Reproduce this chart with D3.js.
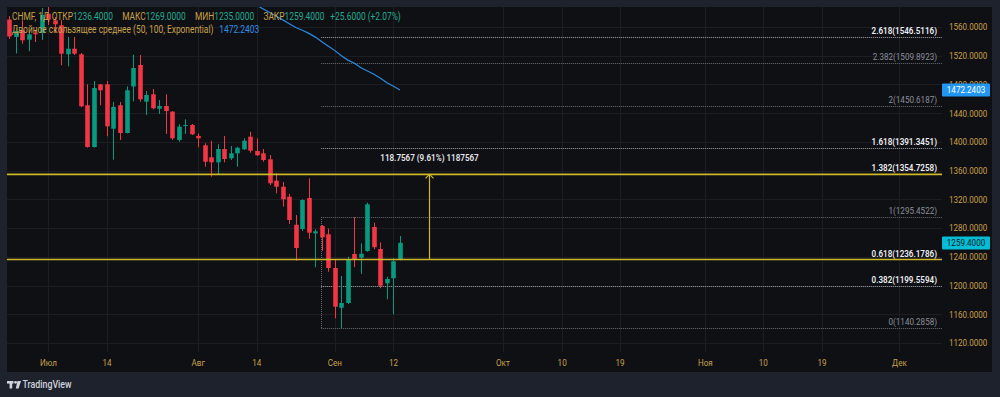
<!DOCTYPE html>
<html><head><meta charset="utf-8">
<script src="https://cdn.jsdelivr.net/npm/d3@7/dist/d3.min.js"></script>
<style>
html,body{margin:0;padding:0;background:#1e222d;overflow:hidden;}
svg{display:block}
text{font-family:Roboto,"Noto Sans",sans-serif;}
</style></head><body>
<svg id="c" width="1000" height="397"></svg>
<script>
// ---- data ----
const opens=[1570.4,1546.1,1555.4,1542.3,1551.6,1551.6,1578.5,1569.3,1562.4,1522.0,1529.8,1522.0,1451.0,1392.9,1480.2,1480.2,1418.4,1451.0,1412.4,1477.2,1507.1,1456.0,1466.3,1446.2,1450.0,1442.1,1402.7,1422.2,1423.6,1408.2,1395.3,1378.6,1371.6,1390.1,1377.2,1384.1,1389.7,1407.3,1387.3,1384.1,1375.8,1346.0,1337.6,1323.7,1284.7,1278.7,1321.9,1272.7,1282.9,1271.4,1224.4,1169.1,1175.7,1243.9,1238.8,1248.1,1281.5,1250.9,1203.1,1210.1,1236.4];
const highs=[1575.3,1558.6,1569.3,1553.0,1555.4,1586.5,1589.2,1573.9,1569.7,1546.1,1546.1,1523.8,1480.2,1484.8,1480.5,1484.8,1455.6,1455.6,1477.4,1521.4,1521.0,1470.9,1473.7,1458.4,1466.3,1443.0,1424.5,1431.5,1425.0,1412.0,1398.1,1401.7,1396.7,1408.2,1394.3,1393.3,1405.0,1414.2,1405.0,1390.1,1381.8,1356.3,1344.2,1327.5,1298.2,1320.1,1349.3,1278.3,1284.3,1279.2,1235.6,1213.3,1240.2,1295.5,1258.8,1315.4,1287.5,1260.2,1212.3,1237.9,1269.0];
const lows=[1543.3,1523.1,1536.7,1526.2,1539.1,1541.9,1562.8,1551.6,1506.7,1505.3,1521.0,1448.3,1392.0,1392.0,1451.0,1407.8,1375.2,1402.7,1412.0,1456.3,1456.0,1437.5,1445.4,1438.9,1411.0,1402.7,1400.3,1411.0,1409.6,1392.5,1365.5,1351.6,1353.9,1371.6,1374.8,1365.5,1388.7,1385.0,1380.4,1372.4,1340.0,1328.4,1309.8,1285.7,1234.6,1276.0,1265.2,1225.4,1248.5,1219.3,1154.4,1140.3,1174.3,1225.6,1216.1,1247.1,1250.5,1196.2,1180.8,1160.0,1235.0];
const closes=[1546.8,1554.4,1541.5,1549.8,1549.8,1576.7,1570.2,1563.8,1522.8,1529.8,1522.8,1449.6,1392.9,1475.1,1471.9,1421.7,1448.6,1412.4,1471.9,1502.9,1459.3,1465.3,1446.8,1450.0,1443.0,1405.0,1421.2,1423.6,1410.6,1405.0,1372.4,1371.6,1390.1,1376.2,1384.1,1391.9,1401.7,1387.8,1381.4,1374.8,1342.4,1337.6,1320.1,1291.3,1252.3,1319.1,1273.6,1275.5,1267.2,1224.4,1170.5,1175.7,1236.5,1235.6,1244.3,1313.1,1253.3,1199.8,1209.1,1233.8,1259.4];
const emaStart=38;
const emaValues=[1590.1,1585.1,1580.1,1575.0,1569.9,1564.5,1559.2,1555.4,1551.1,1545.9,1539.5,1533.3,1527.1,1519.9,1513.9,1509.5,1503.3,1498.7,1494.1,1488.7,1482.4,1477.4,1472.2403];
const priceTicks=[1120,1160,1200,1240,1280,1320,1360,1400,1440,1480,1520,1560];
const timeTickIndex=[6,15,29,38,50,59,75.8,84.9,93.8,106.9,115.8,124.8,136.7];
const timeTickLabels=["Июл","14","Авг","14","Сен","12","Окт","10","19","Ноя","10","19","Дек"];
const fibRatios=["2.618","2.382","2","1.618","1.382","1","0.618","0.382","0"];
const fibPrices=[1546.5116,1509.8923,1450.6187,1391.3451,1354.7258,1295.4522,1236.1786,1199.5594,1140.2858];
const fibMajor=[true,false,false,true,true,false,true,true,false];
const fibSolid=[false,false,false,false,true,false,true,false,false];
const fibStartIndex=47.9;
const measureIndex=64.4;
const measureFrom=1236.1786, measureTo=1354.7258;
const measureText="118.7567 (9.61%) 1187567";
const ticker="CHMF, 1Д";
const maName="Двойное скользящее среднее (50, 100, Exponential)";

// ---- layout ----
const W=1000,H=397;
const panel={l:7,t:7,r:992,b:372};
const plot={l:7,t:7,r:942,b:352};
const SX=0.84, FS=9.6;
const gold="#c9a14a", up="#089981", down="#f23645";

const svg=d3.select("#c");
svg.append("rect").attr("width",W).attr("height",H).attr("fill","#1e222d");
svg.append("rect").attr("x",panel.l).attr("y",panel.t).attr("width",panel.r-panel.l).attr("height",panel.b-panel.t).attr("fill","#0f1014");

const x=d3.scaleLinear().domain([0,60]).range([9.3,400]);
const y=d3.scaleLinear().domain([1120,1560]).range([343,27]);

function txt(g,px,py,s,o={}){
  const t=g.append("text").attr("transform",`translate(${px},${py}) scale(${SX},1)`)
    .attr("font-size",o.size||FS).attr("fill",o.fill||gold)
    .attr("text-anchor",o.anchor||"start").attr("font-weight",o.weight||400).text(s);
  return t;
}

svg.append("defs").append("clipPath").attr("id","pc").append("rect")
  .attr("x",plot.l).attr("y",plot.t).attr("width",plot.r-plot.l).attr("height",plot.b-plot.t);

const grid=svg.append("g").attr("stroke","#1c1e24").attr("stroke-width",1);
grid.selectAll("line.h").data(priceTicks).join("line").attr("class","h")
  .attr("x1",plot.l).attr("x2",plot.r).attr("y1",d=>Math.round(y(d))+0.5).attr("y2",d=>Math.round(y(d))+0.5);
grid.selectAll("line.v").data(timeTickIndex).join("line").attr("class","v")
  .attr("y1",plot.t).attr("y2",plot.b).attr("x1",d=>Math.round(x(d))+0.5).attr("x2",d=>Math.round(x(d))+0.5);

const pg=svg.append("g").attr("clip-path","url(#pc)");

// fib lines
const xFibL=x(fibStartIndex), xFibR=plot.r;
pg.selectAll("line.fib").data(fibPrices.map((p,i)=>({p,i})).filter(d=>!fibSolid[d.i])).join("line")
  .attr("x1",xFibL).attr("x2",xFibR).attr("y1",d=>Math.round(y(d.p))+0.5).attr("y2",d=>Math.round(y(d.p))+0.5)
  .attr("stroke",d=>fibMajor[d.i]?"#a3a6ad":"#6a6d75").attr("stroke-width",1).attr("stroke-dasharray","1,1");
// vertical dashed at fib start between 1 and 0
pg.append("line").attr("x1",Math.round(xFibL)+0.5).attr("x2",Math.round(xFibL)+0.5)
  .attr("y1",y(fibPrices[5])).attr("y2",y(fibPrices[8])).attr("stroke","#6a6d75").attr("stroke-dasharray","1,1");

// candles
const idx=d3.range(opens.length);
pg.selectAll("line.wick").data(idx).join("line")
  .attr("x1",i=>Math.round(x(i))+0.5).attr("x2",i=>Math.round(x(i))+0.5)
  .attr("y1",i=>y(highs[i])).attr("y2",i=>y(lows[i]))
  .attr("stroke",i=>closes[i]>=opens[i]?up:down).attr("stroke-width",1);
const bw=4.6;
pg.selectAll("rect.body").data(idx).join("rect")
  .attr("x",i=>Math.round(x(i))+0.5-bw/2).attr("width",bw)
  .attr("y",i=>y(Math.max(opens[i],closes[i])))
  .attr("height",i=>Math.max(1,Math.abs(y(opens[i])-y(closes[i]))))
  .attr("fill",i=>closes[i]>=opens[i]?up:down);

// EMA
const line=d3.line().x(d=>x(d.i)).y(d=>y(d.v));
pg.append("path").datum(emaValues.map((v,k)=>({i:emaStart+k,v})))
  .attr("d",line).attr("fill","none").attr("stroke","#2a8be0").attr("stroke-width",1.2);

// yellow solid fib lines (full width)
pg.selectAll("line.ys").data(fibPrices.filter((p,i)=>fibSolid[i])).join("line")
  .attr("x1",plot.l).attr("x2",plot.r).attr("y1",d=>y(d)).attr("y2",d=>y(d))
  .attr("stroke","#cdb82a").attr("stroke-width",1.6);

// measure arrow
const mx=Math.round(x(measureIndex))+0.5;
pg.append("line").attr("x1",mx).attr("x2",mx).attr("y1",y(measureFrom)).attr("y2",y(measureTo))
  .attr("stroke","#cdb82a").attr("stroke-width",1.2);
pg.append("path").attr("d",`M${mx-4},${y(measureTo)+4}L${mx},${y(measureTo)}L${mx+4},${y(measureTo)+4}`)
  .attr("fill","none").attr("stroke","#cdb82a").attr("stroke-width",1.2);
txt(svg,mx,161,measureText,{fill:"#e6e7ea",anchor:"middle",weight:600});

// fib labels
fibPrices.forEach((p,i)=>{
  txt(svg,937,y(p)-3,`${fibRatios[i]}(${p.toFixed(4)})`,{fill:fibMajor[i]?"#eceef2":"#8c8f97",anchor:"end",weight:fibMajor[i]?600:400});
});

// price axis
priceTicks.forEach(p=>txt(svg,949,y(p)+3.4,p.toFixed(4),{fill:gold}));
// price labels
function plabel(v,fill,tc){
  const cy=y(v);
  svg.append("rect").attr("x",942).attr("y",cy-6.5).attr("width",48).attr("height",13).attr("fill",fill).attr("rx",1);
  txt(svg,966,cy+3.4,v.toFixed(4),{fill:tc,anchor:"middle"});
}
plabel(emaValues[emaValues.length-1],"#2196f3","#ffffff");
plabel(closes[closes.length-1],"#00bcd4","#0b1a1f");

// time axis
timeTickIndex.forEach((t,i)=>txt(svg,x(t),365.5,timeTickLabels[i],{fill:gold,anchor:"middle"}));

// legend
const L=opens.length-1;
const chg=closes[L]-closes[L-1];
const pct=chg/closes[L-1]*100;
const sg=v=>(v>=0?"+":"")+v.toFixed(v===pct?2:4);
const green="#22ab94";
const leg1=svg.append("text").attr("transform",`translate(12,20) scale(${SX},1)`).attr("font-size",FS+0.4);
[[ticker,gold,0],["ОТКР",gold,3],[opens[L].toFixed(4),green,0],["МАКС",gold,11],[highs[L].toFixed(4),green,0],
 ["МИН",gold,11],[lows[L].toFixed(4),green,0],["ЗАКР",gold,11],[closes[L].toFixed(4),green,0],
 [`${sg(chg)} (${(pct>=0?"+":"")+pct.toFixed(2)}%)`,green,7]].forEach(([s,c,dx])=>{
  leg1.append("tspan").attr("dx",dx).attr("fill",c).text(s);
});
const leg2=svg.append("text").attr("transform",`translate(12,33) scale(${SX},1)`).attr("font-size",FS+0.4);
leg2.append("tspan").attr("fill",gold).text(maName);
leg2.append("tspan").attr("dx",7).attr("fill","#2f8fe6").text(emaValues[emaValues.length-1].toFixed(4));

// TradingView logo
const lg=svg.append("g").attr("fill","#d1d4dc");
lg.append("rect").attr("x",7).attr("y",381).attr("width",6.5).attr("height",2.6);
lg.append("rect").attr("x",9.6).attr("y",381).attr("width",2.6).attr("height",7.5);
lg.append("circle").attr("cx",15.6).attr("cy",382.3).attr("r",1.4);
lg.append("path").attr("d","M17.5,381L21,381L18.6,388.5L15.8,388.5Z");
txt(svg,22.5,388,"TradingView",{fill:"#d1d4dc",size:10.5,weight:500});
</script>
</body></html>
